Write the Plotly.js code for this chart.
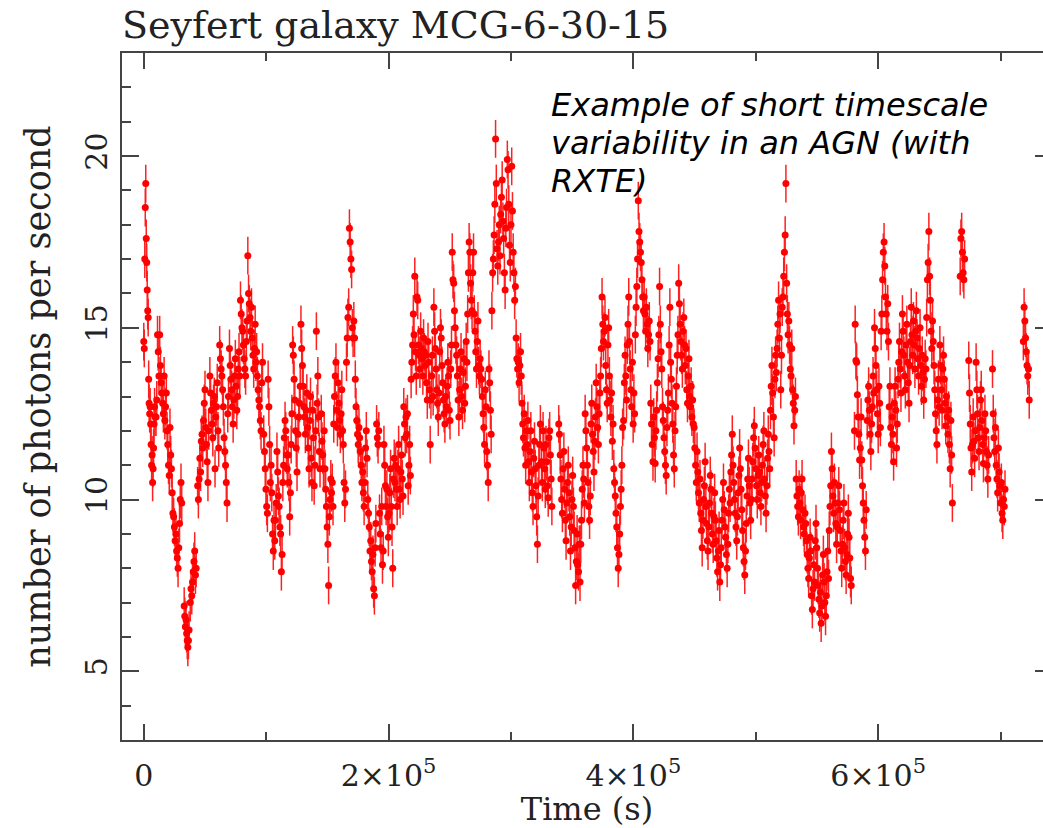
<!DOCTYPE html>
<html>
<head>
<meta charset="utf-8">
<script src="https://cdn.plot.ly/plotly-3.0.1.min.js"></script>
<style>
html,body{margin:0;padding:0;overflow:hidden;background:#fff;}
#chart{width:1056px;height:828px;}
</style>
</head>
<body>
<div id="chart"></div>
<script>
// Time in kiloseconds
const time_ks = [
0.0,0.4,0.8,1.2,1.6,2.0,2.4,2.8,3.2,3.6,4.0,4.4,4.8,5.2,5.6,6.0,6.4,6.8,7.2,7.6,8.0,8.4,8.8,9.2,
10.0,10.6,11.2,11.8,12.4,13.0,13.6,14.2,14.8,15.4,16.0,16.6,17.2,17.8,18.4,19.0,
19.6,20.2,20.8,21.4,22.0,22.6,23.2,23.8,
24.4,25.0,25.6,26.2,26.8,27.4,28.0,28.6,29.2,29.8,30.4,31.0,
33.0,33.5,34.0,34.5,35.0,35.5,36.0,36.5,37.0,
38.0,38.6,39.2,39.8,40.4,41.0,41.6,42.2,42.8,
44.0,44.6,45.2,45.8,46.4,47.0,47.6,48.2,48.8,49.4,50.0,50.6,51.2,51.8,52.4,53.0,
54.0,54.6,55.2,55.8,56.4,57.0,57.6,58.2,58.8,59.4,60.0,60.6,61.2,
62.0,62.6,63.2,63.8,64.4,65.0,65.6,66.2,66.8,67.4,68.0,68.6,69.2,
70.0,70.6,71.2,71.8,72.4,73.0,73.6,74.2,74.8,75.4,76.0,76.6,77.2,77.8,78.4,
79.0,79.6,80.2,80.8,81.4,82.0,82.6,83.2,83.8,84.4,85.0,85.6,86.2,86.8,87.4,
88.0,88.6,89.2,89.8,90.4,91.0,91.6,92.2,92.8,93.4,94.0,94.6,95.2,95.8,96.4,97.0,
98.0,98.6,99.2,99.8,100.4,101.0,101.6,102.2,102.8,103.4,104.0,104.6,105.2,105.8,106.4,107.0,107.6,108.2,
108.8,109.4,110.0,110.6,111.2,111.8,112.4,113.0,113.6,114.2,114.8,115.4,116.0,116.6,117.2,
118.0,118.6,119.2,119.8,120.4,121.0,121.6,122.2,122.8,123.4,124.0,124.6,125.2,
126.0,126.6,127.2,127.8,128.4,129.0,129.6,130.2,130.8,131.4,132.0,132.6,133.2,
133.8,134.4,135.0,135.6,136.2,136.8,137.4,138.0,138.6,139.2,139.8,140.4,141.0,141.6,142.2,142.8,143.4,144.0,
145.0,145.6,146.2,146.8,147.4,148.0,148.6,149.2,149.8,150.4,151.0,151.6,152.2,152.8,153.4,
154.0,154.6,155.2,155.8,156.4,157.0,157.6,158.2,158.8,159.4,160.0,160.6,161.2,161.8,162.4,163.0,163.6,164.2,164.8,
165.6,166.2,166.8,167.4,168.0,168.6,169.2,169.8,170.4,171.0,171.6,
172.2,172.8,173.4,174.0,174.6,175.2,175.8,176.4,177.0,177.6,178.2,178.8,179.4,180.0,180.6,181.2,181.8,182.4,
183.0,183.6,184.2,184.8,185.4,186.0,186.6,187.2,187.8,188.4,189.0,189.6,190.2,190.8,191.4,192.0,192.6,193.2,193.8,194.4,195.0,195.6,
196.2,196.8,197.4,198.0,198.6,199.2,199.8,200.4,201.0,201.6,202.2,202.8,203.4,204.0,204.6,205.2,205.8,206.4,207.0,
207.6,208.2,208.8,209.4,210.0,210.6,211.2,211.8,212.4,213.0,213.6,214.2,214.8,215.4,216.0,216.6,217.2,217.8,218.4,
219.0,219.6,220.2,220.8,221.4,222.0,222.6,223.2,223.8,224.4,225.0,225.6,226.2,226.8,227.4,228.0,228.6,229.2,229.8,230.4,231.0,231.6,232.2,232.8,233.4,234.0,234.6,235.2,235.8,236.4,
237.0,237.6,238.2,238.8,239.4,240.0,240.6,241.2,241.8,242.4,243.0,243.6,244.2,244.8,245.4,246.0,246.6,247.2,247.8,248.4,249.0,249.6,250.2,250.8,251.4,
252.0,252.6,253.2,253.8,254.4,255.0,255.6,256.2,256.8,257.4,258.0,258.6,259.2,259.8,260.4,261.0,261.6,262.2,262.8,263.4,
264.0,264.6,265.2,265.8,266.4,267.0,267.6,268.2,268.8,269.4,270.0,270.6,271.2,271.8,272.4,273.0,273.6,274.2,274.8,275.4,
276.0,276.6,277.2,277.8,278.4,279.0,279.6,280.2,280.8,281.4,282.0,282.6,283.2,283.8,284.4,285.0,285.6,286.2,
286.8,287.4,288.0,288.6,289.2,289.8,290.4,291.0,291.6,292.2,292.8,293.4,294.0,294.6,295.2,295.8,296.4,297.0,297.6,298.2,298.8,299.4,300.0,300.6,301.2,301.8,302.4,
303.0,303.6,304.2,304.8,305.4,306.0,306.6,307.2,307.8,308.4,309.0,309.6,310.2,310.8,311.4,312.0,312.6,313.2,
313.8,314.4,315.0,315.6,316.2,316.8,317.4,318.0,318.6,319.2,319.8,320.4,321.0,321.6,322.2,322.8,323.4,324.0,
325.0,325.6,326.2,326.8,327.4,328.0,328.6,329.2,329.8,330.4,331.0,331.6,332.2,332.8,333.4,
339.0,339.6,340.2,340.8,341.4,342.0,342.6,343.2,343.8,344.4,345.0,345.6,346.2,346.8,347.4,348.0,348.6,349.2,349.8,350.4,351.0,351.6,352.2,352.8,353.4,354.0,354.6,355.2,355.8,
356.4,357.0,357.6,358.2,358.8,359.4,360.0,360.6,361.2,361.8,362.4,363.0,363.6,364.2,364.8,365.4,366.0,366.6,367.2,367.8,368.4,369.0,369.6,370.2,370.8,371.4,
372.0,372.6,373.2,373.8,374.4,375.0,375.6,376.2,376.8,377.4,378.0,378.6,379.2,379.8,380.4,381.0,381.6,382.2,382.8,383.4,
384.0,384.6,385.2,385.8,386.4,387.0,387.6,388.2,388.8,389.4,390.0,390.6,391.2,
392.0,392.6,393.2,393.8,394.4,395.0,395.6,396.2,396.8,397.4,398.0,398.6,399.2,399.8,400.4,401.0,401.6,402.2,402.8,
403.4,404.0,404.6,405.2,405.8,406.4,407.0,407.6,408.2,
408.8,409.4,410.0,410.6,411.2,411.8,412.4,413.0,413.6,414.2,414.8,415.4,416.0,416.6,417.2,417.8,418.4,419.0,
419.6,420.2,420.8,421.4,422.0,422.6,423.2,423.8,424.4,425.0,425.6,426.2,426.8,427.4,428.0,428.6,429.2,429.8,430.4,431.0,431.6,432.2,432.8,433.4,
434.0,434.6,435.2,435.8,436.4,437.0,437.6,438.2,438.8,439.4,440.0,440.6,441.2,441.8,442.4,443.0,443.6,444.2,444.8,445.4,446.0,446.6,447.2,447.8,448.4,449.0,
449.6,450.2,450.8,451.4,452.0,452.6,453.2,453.8,454.4,455.0,455.6,456.2,456.8,457.4,458.0,458.6,459.2,459.8,460.4,461.0,461.6,462.2,462.8,463.4,464.0,464.6,465.2,465.8,466.4,467.0,
467.6,468.2,468.8,469.4,470.0,470.6,471.2,471.8,472.4,473.0,473.6,474.2,474.8,475.4,476.0,476.6,477.2,477.8,478.4,479.0,
479.6,480.2,480.8,481.4,482.0,482.6,483.2,483.8,484.4,485.0,485.6,486.2,486.8,487.4,488.0,488.6,489.2,489.8,490.4,491.0,491.6,492.2,492.8,493.4,494.0,494.6,495.2,495.8,496.4,
497.0,497.6,498.2,498.8,499.4,500.0,500.6,501.2,501.8,502.4,503.0,503.6,504.2,504.8,505.4,506.0,506.6,507.2,507.8,508.4,509.0,509.6,510.2,510.8,511.4,
512.0,512.6,513.2,513.8,514.4,515.0,515.6,516.2,516.8,517.4,518.0,518.6,519.2,519.8,520.4,521.0,
521.6,522.2,522.8,523.4,524.0,524.6,525.2,525.8,526.4,527.0,527.6,528.2,
528.8,529.4,530.0,530.6,531.2,531.8,532.4,533.0,533.6,534.2,534.8,535.4,536.0,536.6,537.2,537.8,538.4,539.0,539.6,540.2,
540.8,541.4,542.0,542.6,543.2,543.8,544.4,545.0,545.6,546.2,546.8,547.4,548.0,548.6,549.2,549.8,550.4,551.0,551.6,552.2,552.8,553.4,554.0,554.6,555.2,555.8,556.4,557.0,557.6,558.2,558.8,559.4,
560.0,560.6,561.2,561.8,562.4,563.0,563.6,564.2,564.8,565.4,566.0,566.6,567.2,567.8,568.4,569.0,569.6,570.2,570.8,571.4,572.0,572.6,573.2,573.8,574.4,575.0,575.6,576.2,576.8,577.4,578.0,
580.6,581.2,581.8,582.4,583.0,583.6,584.2,584.8,585.4,586.0,586.6,587.2,587.8,588.4,589.0,589.6,590.2,
591.0,591.6,592.2,592.8,593.4,594.0,594.6,595.2,595.8,596.4,597.0,597.6,598.2,598.8,599.4,600.0,600.6,601.2,601.8,
602.4,603.0,603.6,604.2,604.8,605.4,606.0,606.6,607.2,607.8,608.4,609.0,609.6,610.2,610.8,
611.4,612.0,612.6,613.2,613.8,614.4,615.0,615.6,616.2,616.8,617.4,618.0,618.6,619.2,619.8,620.4,621.0,621.6,622.2,622.8,623.4,624.0,624.6,625.2,
625.8,626.4,627.0,627.6,628.2,628.8,629.4,630.0,630.6,631.2,631.8,632.4,633.0,633.6,634.2,634.8,635.4,636.0,636.6,637.2,637.8,638.4,639.0,
639.6,640.2,640.8,641.4,642.0,642.6,643.2,643.8,644.4,645.0,645.6,646.2,646.8,647.4,648.0,648.6,649.2,649.8,
650.4,651.0,651.6,652.2,652.8,653.4,654.0,654.6,655.2,655.8,656.4,657.0,657.6,658.2,658.8,659.4,660.0,660.6,
667.0,667.6,668.2,668.8,669.4,670.0,670.6,
674.0,674.6,675.2,675.8,676.4,677.0,677.6,678.2,678.8,679.4,680.0,680.6,681.2,681.8,682.4,683.0,683.6,684.2,684.8,685.4,686.0,686.6,687.2,687.8,688.4,689.0,689.6,690.2,
693.4,694.0,694.6,695.2,695.8,696.4,697.0,697.6,698.2,698.8,699.4,700.0,700.6,701.2,701.8,702.4,703.0,703.6,
718.6,719.2,719.8,720.4,721.0,721.6,722.2,722.8,723.4
];

// Count rate (photons per second)
const rate = [
14.6,14.4,17.0,18.5,19.2,17.6,16.9,16.1,15.5,15.3,13.5,12.8,12.5,12.7,12.2,11.6,11.0,11.3,10.5,10.9,11.5,12.2,12.7,12.4,
12.4,12.9,14.8,14.3,13.6,14.8,13.9,13.4,13.1,12.8,12.5,13.6,12.3,12.7,13.1,12.0,
11.6,11.0,10.7,12.1,11.3,10.9,10.2,9.6,
9.5,9.2,8.8,9.0,8.5,8.3,8.0,8.6,9.3,10.0,10.5,9.9,
6.9,6.6,6.3,6.5,6.1,5.9,5.7,5.9,6.2,
7.0,7.4,7.2,7.6,7.9,8.2,8.5,7.8,8.0,
10.4,10.0,10.6,11.2,10.8,11.7,11.9,11.5,12.3,12.8,13.2,12.1,11.6,11.1,10.5,12.0,
13.6,13.1,12.6,12.2,11.8,12.8,13.0,10.9,12.4,12.7,13.4,12.0,11.5,
14.5,14.1,13.8,13.6,13.2,12.7,11.8,11.4,11.0,10.5,9.9,12.5,13.0,
14.4,13.9,13.5,13.2,12.7,12.2,12.9,13.6,14.1,13.3,12.6,13.0,13.8,14.3,13.6,
15.8,15.4,15.0,14.9,14.5,14.1,13.8,13.6,14.6,15.2,17.1,16.0,15.7,15.3,14.9,
15.6,14.7,14.2,13.8,14.4,15.1,14.0,14.3,13.6,13.2,12.9,12.7,12.3,12.0,13.4,14.0,
11.9,11.4,10.9,10.3,9.8,9.6,13.5,12.7,11.6,10.5,11.0,10.2,9.0,8.5,9.4,8.8,9.4,9.9,
11.4,10.8,10.1,9.8,9.2,9.0,7.9,8.4,10.5,11.0,11.8,12.3,12.0,11.3,10.9,
11.3,10.5,9.5,10.2,11.6,12.5,14.5,14.2,13.5,12.9,12.0,11.5,10.8,
11.9,12.4,12.8,13.3,15.1,14.4,13.9,13.3,12.7,12.4,11.9,12.6,13.1,
12.1,11.5,10.9,12.3,13.0,11.2,10.5,12.6,11.8,10.4,11.0,12.0,14.9,12.8,13.6,12.4,11.4,10.9,
12.5,11.7,11.3,10.9,12.0,10.9,10.3,9.8,9.2,8.7,7.5,9.5,10.0,10.6,10.2,
10.5,9.8,12.2,13.0,13.6,14.0,12.6,12.1,13.4,12.8,12.3,11.9,12.5,13.2,12.0,11.6,10.5,9.9,10.3,
14.0,14.7,15.3,15.6,17.9,17.5,17.0,16.7,15.0,14.7,15.2,
14.7,13.5,12.7,12.3,11.9,11.6,12.1,11.8,11.4,11.0,10.5,10.8,10.2,9.8,10.5,11.5,12.0,11.2,
10.0,9.6,9.2,8.5,8.8,8.2,7.9,8.4,7.4,7.2,8.6,9.3,12.2,11.8,11.6,12.0,9.6,9.0,8.6,9.8,8.1,8.5,
11.6,11.0,10.4,9.8,10.3,9.5,8.9,9.6,10.2,10.9,9.8,9.2,8.0,10.6,11.2,10.5,11.0,10.3,9.8,
10.9,11.6,10.3,10.0,10.8,11.3,10.6,10.1,12.7,12.2,11.8,12.4,11.9,12.5,10.4,11.0,11.6,10.7,13.5,
14.0,14.5,15.4,14.8,16.5,14.3,13.6,15.9,15.8,14.5,14.2,13.8,14.9,14.4,14.1,13.6,14.7,14.3,13.9,14.2,13.4,12.9,14.6,14.0,13.2,11.6,12.9,13.6,14.2,13.0,
15.6,14.9,14.4,13.8,13.2,12.8,12.4,13.1,14.3,15.0,14.7,13.9,13.4,12.9,12.5,12.2,13.0,12.7,13.3,14.0,13.6,12.6,12.3,13.8,14.5,
17.2,16.4,16.3,15.5,15.0,14.5,14.2,13.6,12.9,12.4,13.2,13.8,14.3,13.0,12.6,13.7,14.1,12.8,13.3,14.6,
14.0,15.4,16.6,17.5,17.2,16.3,15.8,15.5,16.6,17.2,15.4,14.9,14.3,13.8,14.6,15.2,13.9,13.6,14.1,13.8,
13.5,13.0,12.5,12.1,11.6,13.2,12.7,11.4,11.0,10.5,13.8,13.4,12.6,11.9,15.5,16.6,17.0,17.7,
18.6,20.5,19.2,17.3,16.8,17.5,18.0,17.1,18.3,18.8,19.3,18.1,17.6,16.6,16.1,17.9,18.5,19.9,19.6,18.6,17.4,16.9,18.0,19.7,18.4,17.2,16.6,
15.8,16.2,14.7,14.1,13.8,14.0,13.4,13.9,14.3,13.6,12.8,12.2,11.8,12.5,11.5,11.0,12.0,11.6,
12.3,11.1,10.5,11.4,12.0,10.8,10.2,9.8,11.2,11.7,10.9,10.4,9.5,8.7,10.1,11.0,11.6,12.2,
11.1,10.5,12.0,11.5,10.9,10.3,11.6,11.1,10.4,10.05,11.8,12.0,11.3,10.6,9.8,
12.2,11.9,11.3,10.6,10.0,9.6,10.9,11.4,10.3,9.4,8.8,9.9,10.5,11.0,10.2,9.5,8.5,9.2,10.0,10.7,9.8,9.1,8.6,7.5,8.2,9.0,8.1,7.9,8.7,
7.6,8.7,9.4,10.3,11.0,10.6,9.9,12.5,12.0,11.5,11.0,10.5,9.8,9.4,10.1,12.2,12.8,11.9,11.4,10.8,11.7,12.4,13.4,12.7,12.1,11.6,
12.5,13.1,13.6,14.4,15.9,15.1,14.6,14.9,15.3,13.9,13.2,12.8,14.5,15.0,13.6,12.9,12.4,13.1,11.7,12.2,
10.9,10.5,10.1,9.6,9.2,8.6,8.0,8.4,9.0,9.8,10.3,11.0,12.1,
12.3,13.4,14.2,13.6,12.9,14.5,15.1,15.9,14.6,13.8,13.2,12.7,14.0,12.2,13.1,12.5,14.8,15.6,16.2,
17.0,18.7,17.8,17.5,17.2,16.9,16.4,15.9,15.5,
15.9,15.4,14.9,15.6,15.1,14.4,14.8,15.2,14.6,12.8,12.2,11.6,11.1,12.4,11.8,11.05,12.0,12.6,
13.4,14.1,14.8,16.2,15.1,14.3,13.8,12.7,12.3,11.8,11.4,11.0,10.7,12.1,12.6,13.1,14.5,15.6,14.0,13.5,12.8,12.2,11.3,10.9,
12.0,12.7,13.3,14.2,14.8,16.3,15.7,15.1,14.6,14.2,13.8,14.9,15.3,14.5,13.9,14.4,13.2,12.8,13.6,14.1,13.0,12.7,13.3,12.4,12.9,12.2,
12.1,11.5,11.0,10.5,11.4,10.8,10.2,9.9,10.6,9.6,9.1,8.6,9.4,10.0,10.4,11.1,9.8,9.3,8.8,8.5,9.2,9.9,10.7,10.3,9.6,9.0,8.7,9.5,10.2,9.4,
8.8,8.3,7.9,8.5,9.1,7.6,8.1,8.6,9.4,10.0,10.5,9.7,9.2,8.9,8.4,8.0,8.7,9.6,10.3,9.9,
10.8,11.3,11.9,11.0,10.5,10.0,9.6,9.2,8.8,9.5,10.2,10.7,11.5,10.9,10.3,9.7,9.1,8.6,8.2,7.8,8.5,9.3,10.1,10.6,11.2,10.4,9.9,9.4,10.0,
10.6,11.1,11.8,12.15,11.5,10.9,10.4,10.0,10.7,11.3,10.8,10.2,9.8,10.5,11.0,11.6,12.0,10.6,10.1,9.6,10.4,11.2,11.9,11.4,10.9,
12.6,13.3,13.9,13.1,12.4,11.8,13.5,14.2,13.7,14.4,15.1,15.8,14.7,15.4,13.2,14.2,
15.6,15.9,16.5,17.2,17.7,19.2,16.3,15.4,14.8,15.2,14.5,13.8,
13.6,14.4,13.2,12.8,12.15,12.6,13.0,10.6,10.1,9.8,9.5,10.3,9.9,9.4,10.2,10.6,9.7,9.2,9.0,9.6,
9.3,8.8,8.4,8.0,7.7,8.3,8.9,8.5,7.2,6.8,7.4,8.1,7.6,8.8,9.3,8.6,8.0,7.5,7.1,6.7,7.3,6.4,6.9,7.8,8.4,7.6,7.0,6.6,7.2,7.9,8.5,7.7,
9.1,9.8,10.4,11.4,10.9,10.1,9.6,10.5,9.9,9.3,8.7,9.2,9.9,10.4,9.7,9.1,8.5,8.0,8.7,9.4,9.9,8.6,8.2,7.8,8.4,9.0,9.6,8.9,8.3,7.7,7.5,
12.0,15.1,14.05,14.0,13.05,12.4,11.9,11.15,11.5,12.4,11.15,10.4,9.9,9.4,8.9,8.5,9.7,
12.3,12.9,13.3,12.6,11.9,11.4,12.2,12.7,13.6,13.1,15.0,14.4,13.9,13.2,12.5,11.9,13.3,12.8,12.1,
14.9,15.4,16.4,17.2,17.5,16.8,15.9,15.4,14.9,15.7,14.6,12.7,13.3,12.1,11.6,
12.4,11.9,11.1,12.8,13.3,12.6,11.5,12.2,13.5,14.0,14.6,13.8,13.1,14.3,15.4,14.9,14.2,13.6,13.2,14.5,15.1,14.0,13.4,12.8,
13.9,14.6,15.6,14.8,14.2,15.2,14.5,13.8,14.9,15.5,14.7,14.1,13.6,14.4,15.0,13.9,13.3,14.2,13.7,12.9,13.5,14.1,13.8,
15.3,16.4,16.9,17.8,16.5,15.8,14.9,14.4,15.2,14.6,13.9,13.2,12.5,12.0,11.6,12.9,13.5,12.7,
14.5,13.9,13.2,12.6,13.8,14.2,13.5,12.8,12.15,13.0,12.4,11.9,12.6,11.6,10.9,12.3,11.3,9.9,
16.5,17.6,17.8,17.2,16.6,16.4,17.0,
14.05,13.1,12.2,11.5,10.8,11.6,12.4,11.7,11.2,12.0,14.0,13.2,12.5,11.8,11.4,12.1,12.9,13.2,12.3,11.6,11.05,11.8,12.5,12.0,11.4,11.0,10.6,11.3,
13.8,12.5,11.8,11.4,12.1,11.0,10.6,10.2,11.5,10.8,10.4,9.9,10.5,9.6,9.4,10.0,9.8,10.3,
14.6,15.6,15.2,14.7,14.3,13.9,13.6,13.8,12.9
];

// Typical 1-sigma error on the rate
const rate_err = 0.55;

// Axis ticks
const x_tickvals = [0, 200000, 400000, 600000];
const x_ticktext = ["0", "2×10<sup>5</sup>", "4×10<sup>5</sup>", "6×10<sup>5</sup>"];
const x_minorvals = [100000, 300000, 500000, 700000];
const y_tickvals = [5, 10, 15, 20];
const y_ticktext = ["5", "10", "15", "20"];

const n = Math.min(time_ks.length, rate.length);
const xs = time_ks.slice(0, n).map(t => t * 1000);
const ys = rate.slice(0, n);

const trace = {
  type: 'scatter',
  mode: 'markers',
  x: xs,
  y: ys,
  marker: {color: '#ff0000', size: 7, symbol: 'circle'},
  error_y: {type: 'constant', value: rate_err, color: '#ff2020', thickness: 1.5, width: 0, visible: true},
  hoverinfo: 'x+y',
  showlegend: false
};

const axisCommon = {
  showline: true, linecolor: '#444', linewidth: 2, mirror: 'ticks',
  ticks: 'inside', tickcolor: '#444', tickwidth: 2,
  showgrid: false, zeroline: false,
  tickfont: {family: 'DejaVu Serif', size: 30, color: '#222'}
};

const layout = {
  width: 1056, height: 828,
  paper_bgcolor: '#ffffff', plot_bgcolor: '#ffffff',
  margin: {l: 122, r: 4, t: 53, b: 88},
  title: {
    text: 'Seyfert galaxy MCG-6-30-15',
    font: {family: 'DejaVu Serif', size: 38, color: '#222'},
    x: 122/1056, xref: 'container', xanchor: 'left',
    y: 1 - 25/828, yref: 'container', yanchor: 'middle'
  },
  xaxis: Object.assign({}, axisCommon, {
    range: [-17800, 742000],
    tickmode: 'array', tickvals: x_tickvals, ticktext: x_ticktext,
    ticklen: 16, ticklabelstandoff: 8,
    minor: {tickmode: 'array', tickvals: x_minorvals, ticks: 'inside', ticklen: 8, tickcolor: '#444', tickwidth: 2},
    title: {text: 'Time (s)', font: {family: 'DejaVu Serif', size: 32, color: '#222'}, standoff: 6}
  }),
  yaxis: Object.assign({}, axisCommon, {
    range: [3, 23],
    tickmode: 'array', tickvals: y_tickvals, ticktext: y_ticktext, tickangle: -90,
    ticklen: 17, ticklabelstandoff: 1,
    minor: {tickmode: 'linear', tick0: 0, dtick: 1, ticks: 'inside', ticklen: 9, tickcolor: '#444', tickwidth: 2},
    title: {text: 'number of photons per second', font: {family: 'DejaVu Serif', size: 35, color: '#222'}, standoff: 18}
  }),
  annotations: [
    {text: '<i>Example of short timescale</i>', xref: 'paper', yref: 'paper',
     x: (549-122)/930, y: (740-105)/687, xanchor: 'left', yanchor: 'middle', showarrow: false,
     font: {family: 'DejaVu Sans', size: 32, color: '#000'}},
    {text: '<i>variability in an AGN (with</i>', xref: 'paper', yref: 'paper',
     x: (549-122)/930, y: (740-143)/687, xanchor: 'left', yanchor: 'middle', showarrow: false,
     font: {family: 'DejaVu Sans', size: 32, color: '#000'}},
    {text: '<i>RXTE)</i>', xref: 'paper', yref: 'paper',
     x: (549-122)/930, y: (740-181)/687, xanchor: 'left', yanchor: 'middle', showarrow: false,
     font: {family: 'DejaVu Sans', size: 32, color: '#000'}}
  ]
};

Plotly.newPlot('chart', [trace], layout, {displayModeBar: false, staticPlot: true});
</script>
</body>
</html>
